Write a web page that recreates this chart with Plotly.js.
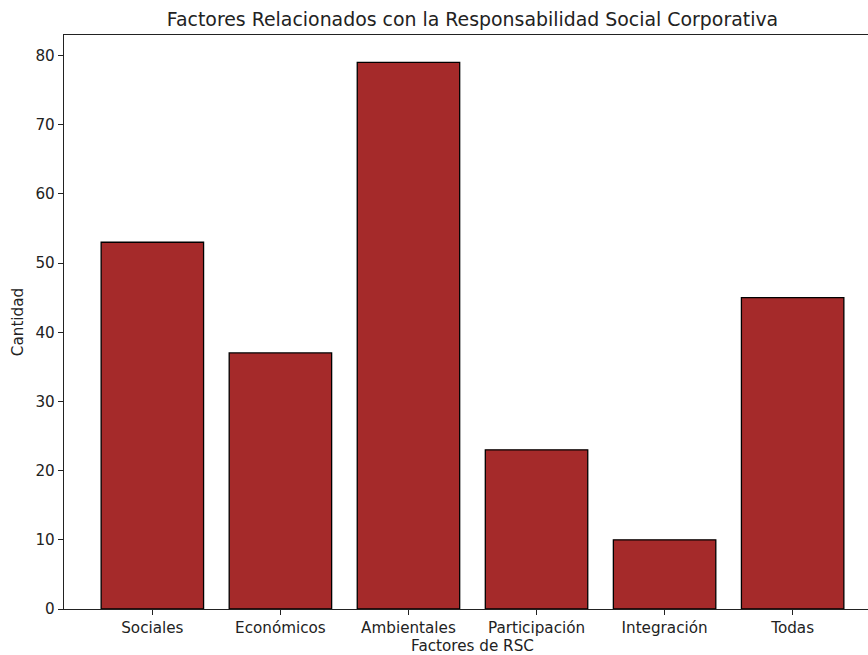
<!DOCTYPE html>
<html>
<head>
<meta charset="utf-8">
<script src="https://cdn.plot.ly/plotly-3.0.1.min.js"></script>
<style>
html,body{margin:0;padding:0;overflow:hidden;background:#fff;width:868px;height:655px;}
#chart{width:884px;height:655px;}
</style>
</head>
<body>
<div id="chart"></div>
<script>
const categories = ["Sociales", "Económicos", "Ambientales", "Participación", "Integración", "Todas"];
const values = [53, 37, 79, 23, 10, 45];
const yTicks = [0, 10, 20, 30, 40, 50, 60, 70, 80];

const font = {family: "DejaVu Sans, sans-serif", size: 15.2, color: "#222"};

const trace = {
  type: "bar",
  x: categories.map((_, i) => i),
  y: values,
  width: 0.8,
  marker: {color: "#A52A2A", line: {color: "#000", width: 1.3}},
  hoverinfo: "none"
};

const layout = {
  width: 884,
  height: 655,
  margin: {l: 64, r: 2.5, t: 35, b: 46},
  paper_bgcolor: "#fff",
  plot_bgcolor: "#fff",
  font: font,
  showlegend: false,
  title: {
    text: "Factores Relacionados con la Responsabilidad Social Corporativa",
    font: {family: "DejaVu Sans, sans-serif", size: 18.9, color: "#222"},
    xref: "paper", x: 0.5, xanchor: "center", y: 0.971, yanchor: "middle"
  },
  xaxis: {
    range: [-0.69, 5.69],
    tickmode: "array",
    tickvals: categories.map((_, i) => i),
    ticktext: categories,
    ticks: "outside", ticklen: 5, tickwidth: 1, tickcolor: "#222",
    showline: true, linecolor: "#222", linewidth: 1.2, mirror: true,
    showgrid: false, zeroline: false,
    tickfont: font,
    title: {text: "Factores de RSC", font: font, standoff: 9}
  },
  yaxis: {
    range: [0, 82.95],
    tickmode: "array",
    tickvals: yTicks,
    ticks: "outside", ticklen: 5, tickwidth: 1, tickcolor: "#222",
    showline: true, linecolor: "#222", linewidth: 1.2,
    showgrid: false, zeroline: false,
    tickfont: font,
    title: {text: "Cantidad", font: font, standoff: 8}
  }
};

Plotly.newPlot("chart", [trace], layout, {staticPlot: true, displayModeBar: false});
</script>
</body>
</html>
